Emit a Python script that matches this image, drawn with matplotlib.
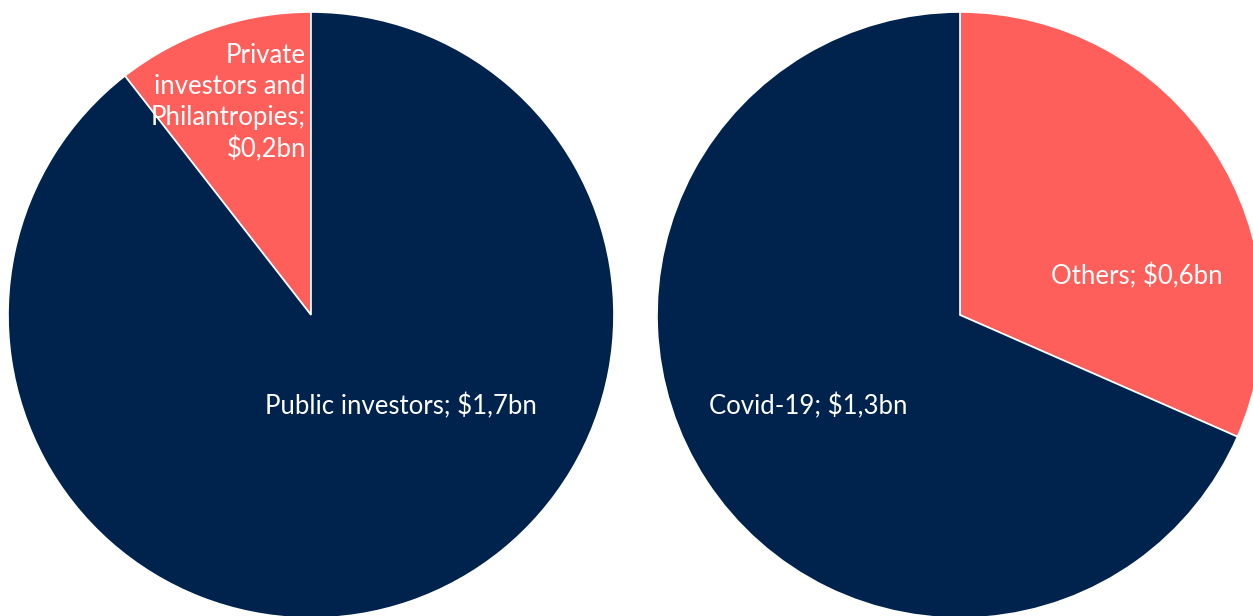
import matplotlib
matplotlib.use("Agg")
import matplotlib.pyplot as plt

# Funding split, in $bn
investor_labels = ["Private\ninvestors and\nPhilantropies;\n$0,2bn", "Public investors; $1,7bn"]
investor_values = [0.2, 1.7]

purpose_labels = ["Others; $0,6bn", "Covid-19; $1,3bn"]
purpose_values = [0.6, 1.3]

NAVY = "#00234D"
CORAL = "#FF5F5A"

plt.rcParams["font.family"] = ["Lato", "DejaVu Sans"]

fig = plt.figure(figsize=(12.53, 6.16), dpi=100)
fig.patch.set_facecolor("white")

W, H = 1253, 616
R = 303


def pie_axes(cx, cy):
    return fig.add_axes([(cx - R) / W, (H - cy - R) / H, 2 * R / W, 2 * R / H])


wedge_style = dict(edgecolor="white", linewidth=1.2)
text_style = dict(color="white", fontsize=18.5)

# Left pie: who invests
ax1 = pie_axes(311, 315)
ax1.pie(investor_values, colors=[CORAL, NAVY], startangle=90, counterclock=True,
        wedgeprops=wedge_style, radius=1)
ax1.set_xlim(-1, 1)
ax1.set_ylim(-1, 1)
ax1.set_aspect("equal")
ax1.text(-0.017, 0.70, investor_labels[0], ha="right", va="center",
         linespacing=1.3, **text_style)
ax1.text(0.297, -0.30, investor_labels[1], ha="center", va="center", **text_style)

# Right pie: what it funds
ax2 = pie_axes(960, 315)
ax2.pie(purpose_values, colors=[CORAL, NAVY], startangle=90, counterclock=False,
        wedgeprops=wedge_style, radius=1)
ax2.set_xlim(-1, 1)
ax2.set_ylim(-1, 1)
ax2.set_aspect("equal")
ax2.text(0.584, 0.128, purpose_labels[0], ha="center", va="center", **text_style)
ax2.text(-0.502, -0.30, purpose_labels[1], ha="center", va="center", **text_style)

fig.savefig("out.png", dpi=100, facecolor="white")
